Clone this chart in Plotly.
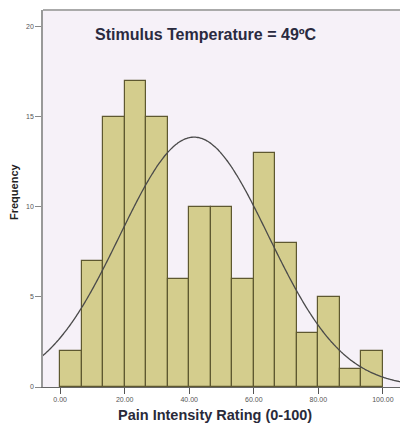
import numpy as np
import plotly.graph_objects as go

# Data
bin_edges_low = [0.0, 6.67, 13.33, 20.0, 26.67, 33.33, 40.0, 46.67, 53.33, 60.0,
                 66.67, 73.33, 80.0, 86.67, 93.33]
bin_width = 6.667
counts = [2, 7, 15, 17, 15, 6, 10, 10, 6, 13, 8, 3, 5, 1, 2]
fit_mean = 41.5
fit_sd = 23.0
x_tick_vals = [0, 20, 40, 60, 80, 100]
x_tick_text = ["0.00", "20.00", "40.00", "60.00", "80.00", "100.00"]
y_tick_vals = [0, 5, 10, 15, 20]
y_tick_text = ["0", "5", "10", "15", "20"]
title_text = "Stimulus Temperature = 49ºC"
x_title = "Pain Intensity Rating (0-100)"
y_title = "Frequency"

centers = [b + bin_width / 2 for b in bin_edges_low]
n_total = sum(counts)
xs = np.linspace(-6, 106, 300)
ys = n_total * bin_width / (fit_sd * np.sqrt(2 * np.pi)) * np.exp(-0.5 * ((xs - fit_mean) / fit_sd) ** 2)

fig = go.Figure()
fig.add_trace(go.Bar(
    x=centers, y=counts, width=[bin_width] * len(counts),
    marker=dict(color="#D4CD8D", line=dict(color="#5E5830", width=1.2)),
    hoverinfo="skip",
))
fig.add_trace(go.Scatter(
    x=xs, y=ys, mode="lines",
    line=dict(color="#4a4a4a", width=1.3, shape="spline"),
    hoverinfo="skip",
))

W, H = 400, 430
ml, mt, mb = 43, 10, 43
pw, ph = W - ml, H - mt - mb

fig.update_layout(
    width=W, height=H,
    margin=dict(l=ml, r=0, t=mt, b=mb),
    paper_bgcolor="white",
    plot_bgcolor="#F6F1F8",
    showlegend=False,
    bargap=0,
    font=dict(family="Liberation Sans, Arial, sans-serif", color="#222"),
    xaxis=dict(
        range=[-5.3, 105.3],
        tickvals=x_tick_vals, ticktext=x_tick_text,
        ticks="outside", ticklen=6, tickcolor="#555", tickwidth=1,
        tickfont=dict(size=7, color="#555"),
        showgrid=False, zeroline=False,
        showline=True, linecolor="#666", linewidth=1,
    ),
    yaxis=dict(
        range=[0, 20.94],
        tickvals=y_tick_vals, ticktext=y_tick_text,
        ticks="outside", ticklen=6, tickcolor="#888", tickwidth=1,
        tickfont=dict(size=7, color="#555"),
        showgrid=False, zeroline=False,
        showline=True, linecolor="#999", linewidth=1.5,
    ),
    shapes=[dict(type="line", xref="paper", yref="paper", x0=0, x1=1, y0=1, y1=1,
                 line=dict(color="#aaa", width=2))],
    annotations=[
        dict(text="<b>" + title_text + "</b>", xref="paper", yref="paper",
             x=(206 - ml) / pw, y=(H - mb - 34) / ph, xanchor="center", yanchor="middle",
             showarrow=False, font=dict(size=16, color="#2a2a40")),
        dict(text="<b>" + x_title + "</b>", xref="paper", yref="paper",
             x=(215 - ml) / pw, y=(H - mb - 415) / ph, xanchor="center", yanchor="middle",
             showarrow=False, font=dict(size=14.5, color="#2a2a3a")),
        dict(text="<b>" + y_title + "</b>", xref="paper", yref="paper",
             x=(14 - ml) / pw, y=(H - mb - 192) / ph, xanchor="center", yanchor="middle",
             textangle=-90, showarrow=False, font=dict(size=11, color="#222")),
    ],
)

fig.write_html("out.html",
               config={"displayModeBar": False},
               post_script="document.body.style.margin='0';document.body.style.overflow='hidden';")
